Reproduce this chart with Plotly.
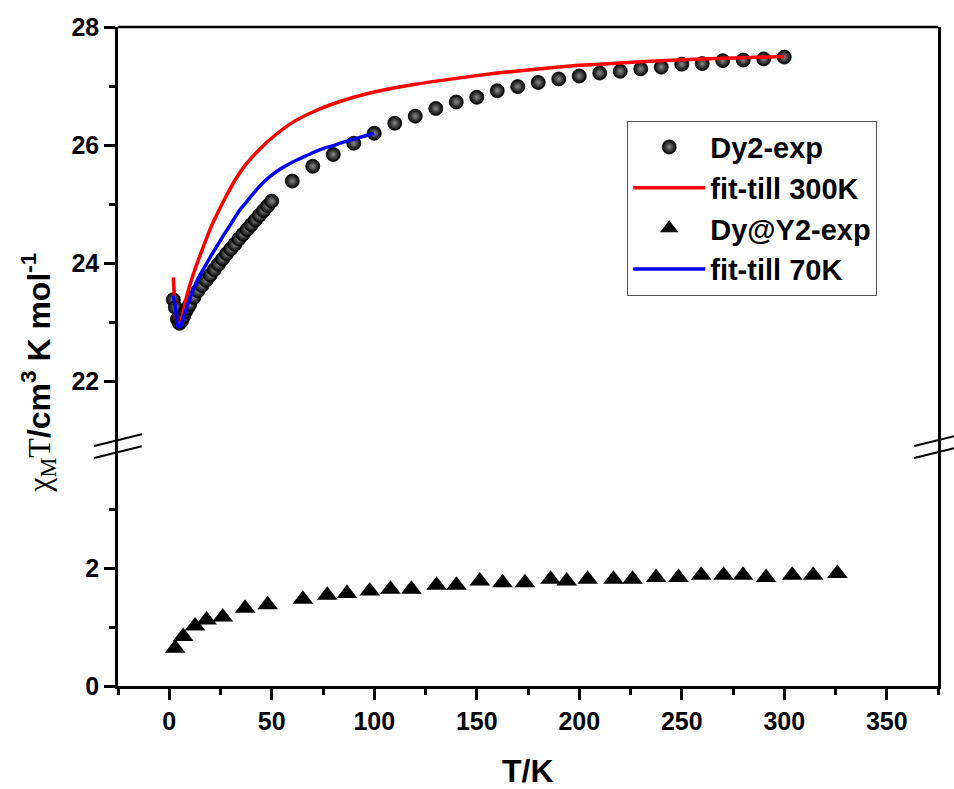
import plotly.graph_objects as go

# ---------------- data ----------------
# Dy2 experimental (chi_M T, cm^3 K mol^-1)
dy2_T = [2, 3, 4, 5, 6, 7, 8, 9, 10, 12, 14, 16, 18, 20, 22, 24, 26, 28, 30,
         32, 34, 36, 38, 40, 42, 44, 46, 48, 50,
         60, 70, 80, 90, 100, 110, 120, 130, 140, 150, 160, 170, 180, 190,
         200, 210, 220, 230, 240, 250, 260, 270, 280, 290, 300]
dy2_val = [23.38, 23.25, 23.05, 22.98, 23.02, 23.10, 23.18, 23.24, 23.30, 23.42,
           23.53, 23.62, 23.71, 23.80, 23.89, 23.98, 24.07, 24.16, 24.24, 24.32,
           24.41, 24.49, 24.57, 24.65, 24.73, 24.81, 24.89, 24.97, 25.05,
           25.39, 25.64, 25.84, 26.03, 26.20, 26.37, 26.49, 26.62, 26.73, 26.81,
           26.92, 26.99, 27.06, 27.12, 27.17, 27.22, 27.25, 27.29, 27.32, 27.37,
           27.38, 27.43, 27.44, 27.46, 27.49]

# fit till 300 K
fit300_T = [2, 3, 4, 5, 6, 8, 10, 13, 16, 20, 24, 28, 32, 36, 40, 45, 50, 60,
            70, 80, 90, 100, 120, 140, 160, 180, 200, 220, 240, 260, 280, 300]
fit300_val = [23.76, 23.20, 22.98, 22.95, 23.05, 23.37, 23.62, 23.94, 24.22,
              24.58, 24.88, 25.15, 25.40, 25.61, 25.78, 25.96, 26.12, 26.38,
              26.56, 26.70, 26.81, 26.90, 27.03, 27.13, 27.22, 27.29, 27.35,
              27.39, 27.43, 27.46, 27.48, 27.50]

# fit till 70 K
fit70_T = [2, 3, 4, 5, 6, 8, 10, 12, 15, 18, 21, 24, 27, 30, 34, 38, 42, 46,
           50, 55, 60, 65, 70, 75, 80, 85, 90, 95, 100]
fit70_val = [23.45, 23.25, 22.95, 22.92, 22.98, 23.20, 23.40, 23.58, 23.80,
             23.98, 24.16, 24.33, 24.50, 24.66, 24.88, 25.05, 25.22, 25.37,
             25.49, 25.61, 25.71, 25.79, 25.87, 25.94, 25.99, 26.05, 26.10,
             26.15, 26.20]

# Dy@Y2 experimental
dyy_T = [2.9, 6.8, 12.6, 18.2, 26.1, 37, 48, 65.2, 77.1, 86.7, 97.8, 107.9,
         118.1, 130.4, 140.1, 151.5, 162.6, 173.5, 186, 193.9, 204.1, 216.7,
         226, 237.5, 248.4, 259.5, 270.4, 279.9, 291.1, 303.9, 314.1, 325.9]
dyy_val = [0.64, 0.84, 1.02, 1.12, 1.17, 1.32, 1.38, 1.47, 1.54, 1.57, 1.61,
           1.64, 1.64, 1.71, 1.71, 1.78, 1.75, 1.75, 1.81, 1.78, 1.81, 1.81,
           1.81, 1.84, 1.84, 1.88, 1.88, 1.88, 1.84, 1.88, 1.88, 1.91]

x_ticks = [0, 50, 100, 150, 200, 250, 300, 350]
y_low_ticks = [0, 2]
y_up_ticks = [22, 24, 26, 28]

# ---------------- figure ----------------
FONT = "Liberation Sans, Arial, sans-serif"
LW = 2.5
BREAK = 0.364

fig = go.Figure()
fig.add_trace(go.Scatter(
    x=dy2_T, y=dy2_val, mode="markers", name="Dy2-exp", yaxis="y2",
    marker=dict(symbol="circle", size=14, color="black",
                gradient=dict(type="radial", color="#8a8a8a"),
                line=dict(width=0.8, color="black"))))
fig.add_trace(go.Scatter(
    x=fit300_T, y=fit300_val, mode="lines", name="fit-till 300K", yaxis="y2",
    line=dict(color="#ff0000", width=3.5, shape="spline", smoothing=0.6)))
fig.add_trace(go.Scatter(
    x=dyy_T, y=dyy_val, mode="markers", name="Dy@Y2-exp", yaxis="y",
    marker=dict(symbol="triangle-up", size=18, color="black")))
fig.add_trace(go.Scatter(
    x=fit70_T, y=fit70_val, mode="lines", name="fit-till 70K", yaxis="y2",
    line=dict(color="#0000ff", width=3.5, shape="spline", smoothing=0.6)))

tickfont = dict(family=FONT, size=25, color="black", weight="bold")

fig.update_layout(
    width=954, height=789,
    margin=dict(l=118, r=16, t=27, b=103, autoexpand=False),
    paper_bgcolor="white", plot_bgcolor="white",
    showlegend=True,
    legend=dict(x=0.621, y=0.858, xanchor="left", yanchor="top",
                bgcolor="white", bordercolor="#555555", borderwidth=1,
                font=dict(family=FONT, size=29, color="black", weight="bold"),
                itemwidth=72, tracegroupgap=0),
    xaxis=dict(range=[-25, 375], tickvals=x_ticks, ticks="outside", ticklen=11,
               tickwidth=LW, tickcolor="black", showline=True, linewidth=LW,
               linecolor="black", showgrid=False, zeroline=False,
               tickfont=tickfont, anchor="y", automargin=False,
               minor=dict(tickvals=[-25, 25, 75, 125, 175, 225, 275, 325, 375],
                          ticks="outside", ticklen=6, tickwidth=LW,
                          tickcolor="black", showgrid=False)),
    yaxis=dict(domain=[0, BREAK], range=[0, 4.07], tickvals=y_low_ticks,
               ticks="outside", ticklen=11, tickwidth=LW, tickcolor="black",
               showline=True, linewidth=LW, linecolor="black", mirror=True,
               showgrid=False, zeroline=False, tickfont=tickfont, anchor="x",
               automargin=False,
               minor=dict(tickvals=[1, 3], ticks="outside", ticklen=6,
                          tickwidth=LW, tickcolor="black", showgrid=False)),
    yaxis2=dict(domain=[BREAK, 1], range=[20.9, 28], tickvals=y_up_ticks,
                ticks="outside", ticklen=11, tickwidth=LW, tickcolor="black",
                showline=True, linewidth=LW, linecolor="black", mirror=True,
                showgrid=False, zeroline=False, tickfont=tickfont, anchor="x",
                automargin=False,
                minor=dict(tickvals=[23, 25, 27], ticks="outside", ticklen=6,
                           tickwidth=LW, tickcolor="black", showgrid=False)),
)

# top frame line
fig.add_shape(type="line", xref="paper", yref="paper", x0=0, x1=1, y0=1, y1=1,
              line=dict(color="black", width=LW))

# axis-break marks (left and right)
for xc in (0, 1):
    for dy in (-0.0091, 0.0091):
        fig.add_shape(type="line", xref="paper", yref="paper",
                      x0=xc - 0.029, x1=xc + 0.029,
                      y0=BREAK + dy - 0.0089, y1=BREAK + dy + 0.0089,
                      line=dict(color="black", width=2))

# x-axis title
fig.add_annotation(
    xref="paper", yref="paper", x=0.5, y=-0.129, xanchor="center", yanchor="middle",
    showarrow=False, text="<b>T/K</b>",
    font=dict(family=FONT, size=32, color="black"))

# y-axis title (mixed fonts)
fig.add_annotation(
    xref="paper", yref="paper", x=-0.097, y=0.476, xanchor="center", yanchor="middle",
    textangle=-90, showarrow=False,
    text=('<span style="font-family:Liberation Serif, Times New Roman, serif">'
          'χ<sub>M</sub>T</span>'
          '<b>/cm<sup>3</sup> K mol<sup>-1</sup></b>'),
    font=dict(family=FONT, size=32, color="black"))

fig.write_html("out.html")
